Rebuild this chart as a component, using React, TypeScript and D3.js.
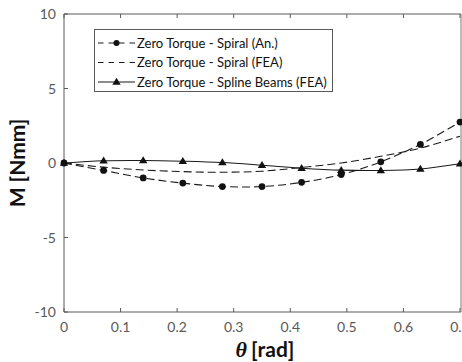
import React from "react";
import * as d3 from "d3";

const thetaValues = [0, 0.07, 0.14, 0.21, 0.28, 0.35, 0.42, 0.49, 0.56, 0.63, 0.7];
const spiralAnalytical = [0, -0.5, -1.0, -1.35, -1.58, -1.58, -1.3, -0.78, 0.08, 1.25, 2.75];
const spiralFEA = [0, -0.28, -0.47, -0.58, -0.62, -0.55, -0.3, 0.0, 0.45, 1.0, 1.8];
const splineBeamsFEA = [0, 0.15, 0.17, 0.12, 0.03, -0.15, -0.35, -0.48, -0.5, -0.4, -0.05];

const xTicks = [0, 0.1, 0.2, 0.3, 0.4, 0.5, 0.6, 0.7];
const yTicks = [-10, -5, 0, 5, 10];
const legendLabels = [
  "Zero Torque - Spiral (An.)",
  "Zero Torque - Spiral (FEA)",
  "Zero Torque - Spline Beams (FEA)",
];

const W = 462;
const H = 362;
const left = 64;
const right = 461;
const top = 14;
const bottom = 312;

export default function App() {
  const x = d3.scaleLinear().domain([0, 0.7]).range([left, right - 1]);
  const y = d3.scaleLinear().domain([-10, 10]).range([bottom, top]);
  const line = (vals: number[]) =>
    d3
      .line<number>()
      .x((_, i) => x(thetaValues[i]))
      .y((d) => y(d))
      .curve(d3.curveCatmullRom.alpha(0.5))(vals) as string;

  const axisColor = "#595959";
  const font = "Lato, 'Open Sans', sans-serif";
  const tri = (cx: number, cy: number) =>
    `M${cx},${cy - 4.2}L${cx + 4.2},${cy + 2.8}L${cx - 4.2},${cy + 2.8}Z`;

  const lx0 = 98;
  const lx1 = 135;
  const legendY = [43, 62.5, 82];

  return (
    <svg
      width={W}
      height={H}
      style={{ position: "absolute", left: 0, top: 0, background: "#fff" }}
    >
      <rect x={0} y={0} width={W} height={H} fill="#fff" />
      {/* frame */}
      <line x1={left} x2={right} y1={top} y2={top} stroke={axisColor} strokeWidth={1} />
      <line x1={left} x2={right} y1={bottom} y2={bottom} stroke={axisColor} strokeWidth={1} />
      <line x1={left} x2={left} y1={top} y2={bottom} stroke={axisColor} strokeWidth={1} />
      <line x1={right} x2={right} y1={top} y2={bottom} stroke="#a6a6a6" strokeWidth={1.5} />
      {xTicks.map((t) => (
        <g key={"xt" + t}>
          <line x1={x(t)} x2={x(t)} y1={bottom} y2={bottom - 4} stroke={axisColor} />
          <line x1={x(t)} x2={x(t)} y1={top} y2={top + 4} stroke={axisColor} />
          <text
            x={x(t)}
            y={bottom + 20}
            textAnchor="middle"
            fontFamily={font}
            fontSize={14}
            fill={axisColor}
          >
            {d3.format(".1~f")(t)}
          </text>
        </g>
      ))}
      {yTicks.map((t) => (
        <g key={"yt" + t}>
          <line x1={left} x2={left + 4} y1={y(t)} y2={y(t)} stroke={axisColor} />
          <text
            x={left - 8}
            y={y(t) + 5}
            textAnchor="end"
            fontFamily={font}
            fontSize={14}
            fill={axisColor}
          >
            {t}
          </text>
        </g>
      ))}
      {/* series */}
      <path d={line(spiralFEA)} fill="none" stroke="#1a1a1a" strokeWidth={1.1} strokeDasharray="8,4" />
      <path d={line(spiralAnalytical)} fill="none" stroke="#1a1a1a" strokeWidth={1.1} strokeDasharray="8,4" />
      <path d={line(splineBeamsFEA)} fill="none" stroke="#1a1a1a" strokeWidth={1.1} />
      {spiralAnalytical.map((v, i) => (
        <circle key={"c" + i} cx={x(thetaValues[i])} cy={y(v)} r={3.4} fill="#111" />
      ))}
      {splineBeamsFEA.map((v, i) => (
        <path key={"t" + i} d={tri(x(thetaValues[i]), y(v))} fill="#111" />
      ))}
      {/* legend */}
      <rect x={94.5} y={29.5} width={238} height={62} fill="#fff" stroke={axisColor} strokeWidth={1} />
      {legendLabels.map((lab, i) => (
        <g key={"lg" + i}>
          <line
            x1={lx0}
            x2={lx1}
            y1={legendY[i]}
            y2={legendY[i]}
            stroke="#1a1a1a"
            strokeWidth={1.1}
            strokeDasharray={i < 2 ? "5.5,5" : undefined}
          />
          {i === 0 && <circle cx={(lx0 + lx1) / 2} cy={legendY[i]} r={3} fill="#111" />}
          {i === 2 && <path d={tri((lx0 + lx1) / 2, legendY[i])} fill="#111" />}
          <text
            x={137}
            y={legendY[i] + 4.5}
            fontFamily={font}
            fontSize={13}
            fill="#111"
          >
            {lab}
          </text>
        </g>
      ))}
      {/* axis labels */}
      <text
        transform="translate(25,163) rotate(-90)"
        textAnchor="middle"
        fontFamily={font}
        fontWeight="bold"
        fontSize={21}
        fill="#111"
      >
        M [Nmm]
      </text>
      <text x={265} y={357} textAnchor="middle" fill="#111">
        <tspan fontFamily="'Liberation Serif', serif" fontStyle="italic" fontWeight="bold" fontSize={22}>θ</tspan>
        <tspan fontFamily={font} fontWeight="bold" fontSize={21} dx={4}>[rad]</tspan>
      </text>
    </svg>
  );
}
